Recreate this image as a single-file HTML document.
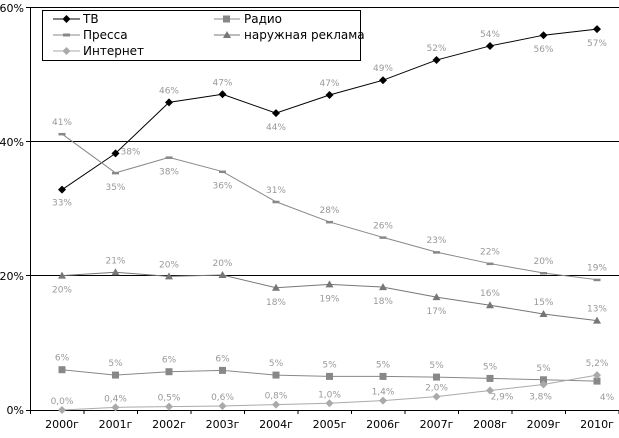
<!DOCTYPE html>
<html><head><meta charset="utf-8"><style>
body{margin:0;background:#fff}
text{font-family:"DejaVu Sans","Liberation Sans",sans-serif}
.l{font-size:9px;fill:#999;text-anchor:middle}
.a{font-size:11px;fill:#000}
</style></head><body>
<svg width="619" height="433" xmlns="http://www.w3.org/2000/svg">
<g stroke="#000" stroke-width="1">
<line x1="30.5" y1="7" x2="30.5" y2="410"/>
<line x1="30" y1="7.5" x2="619" y2="7.5"/>
<line x1="30" y1="141.5" x2="619" y2="141.5"/>
<line x1="30" y1="275.5" x2="619" y2="275.5"/>
<line x1="26" y1="410.5" x2="619" y2="410.5"/>
<line x1="26" y1="7.5" x2="30" y2="7.5"/><line x1="26" y1="141.5" x2="30" y2="141.5"/><line x1="26" y1="275.5" x2="30" y2="275.5"/>
</g>
<g stroke="#000" id="ticks"></g>
<g class="a" text-anchor="end">
<text x="24" y="12">60%</text><text x="24" y="146">40%</text><text x="24" y="280">20%</text><text x="24" y="414">0%</text>
</g>
<g id="xl" class="a" text-anchor="middle"></g>
<g id="series"></g>
<rect x="42.5" y="10.5" width="318" height="50" fill="#fff" stroke="#000"/>
<g class="a" style="font-size:12px">
<line x1="53" y1="19" x2="80" y2="19" stroke="#000"/><path d="M66.5 15l4 4-4 4-4-4z" fill="#000"/><text x="83" y="23">ТВ</text>
<line x1="53" y1="35" x2="80" y2="35" stroke="#888"/><line x1="63" y1="35" x2="70" y2="35" stroke="#888" stroke-width="3"/><text x="83" y="39">Пресса</text>
<line x1="53" y1="51" x2="80" y2="51" stroke="#aaa"/><path d="M66.5 47l4 4-4 4-4-4z" fill="#aaa"/><text x="83" y="55">Интернет</text>
<line x1="214" y1="19" x2="240" y2="19" stroke="#888"/><rect x="223" y="15.5" width="7" height="7" fill="#888"/><text x="244" y="23">Радио</text>
<line x1="214" y1="35" x2="240" y2="35" stroke="#777"/><path d="M227 31l4 7h-8z" fill="#777"/><text x="244" y="39">наружная реклама</text>
</g>
</svg>
<script>
const ns="http://www.w3.org/2000/svg";
const X=i=>62+i*53.5, Y=v=>410-v*6.717;
function el(t,a,p){const e=document.createElementNS(ns,t);for(const k in a)e.setAttribute(k,a[k]);(p||document.getElementById('series')).appendChild(e);return e}
for(let i=0;i<=11;i++)el('line',{x1:30.5+i*53.5,y1:410,x2:30.5+i*53.5,y2:414,stroke:'#000'},document.getElementById('ticks'));
const yrs=[2000,2001,2002,2003,2004,2005,2006,2007,2008,2009,2010];
yrs.forEach((y,i)=>{const t=el('text',{x:X(i),y:428},document.getElementById('xl'));t.textContent=y+'г'});
const S=[
{c:'#000',m:'d',v:[32.8,38.2,45.8,47,44.2,46.9,49.1,52.1,54.2,55.8,56.7],l:['33%','38%','46%','47%','44%','47%','49%','52%','54%','56%','57%'],o:[[0,13],[15,-2],[0,-12],[0,-12],[0,14],[0,-12],[0,-12],[0,-12],[0,-12],[0,14],[0,14]]},
{c:'#888',m:'s',v:[41.1,35.3,37.6,35.5,31,28,25.7,23.5,21.8,20.4,19.4],l:['41%','35%','38%','36%','31%','28%','26%','23%','22%','20%','19%'],o:[[0,-12],[0,14],[0,14],[0,14],[0,-12],[0,-12],[0,-12],[0,-12],[0,-12],[0,-12],[0,-12]],dash:1},
{c:'#777',m:'t',v:[20,20.5,19.9,20.1,18.2,18.7,18.3,16.8,15.6,14.3,13.3],l:['20%','21%','20%','20%','18%','19%','18%','17%','16%','15%','13%'],o:[[0,14],[0,-12],[0,-12],[0,-12],[0,14],[0,14],[0,14],[0,14],[0,-12],[0,-12],[0,-12]]},
{c:'#888',m:'q',v:[6,5.2,5.7,5.9,5.2,5,5,4.9,4.7,4.5,4.3],l:['6%','5%','6%','6%','5%','5%','5%','5%','5%','5%','4%'],o:[[0,-12],[0,-12],[0,-12],[0,-12],[0,-12],[0,-12],[0,-12],[0,-12],[0,-12],[0,-12],[10,16]]},
{c:'#aaa',m:'d',v:[0,.4,.5,.6,.8,1,1.4,2,2.9,3.8,5.2],l:['0,0%','0,4%','0,5%','0,6%','0,8%','1,0%','1,4%','2,0%','2,9%','3,8%','5,2%'],o:[[0,-9],[0,-9],[0,-9],[0,-9],[0,-9],[0,-9],[0,-9],[0,-9],[12,6],[-3,12],[0,-12]]},
];
S.forEach(s=>{
 el('polyline',{points:s.v.map((v,i)=>X(i)+','+Y(v)).join(' '),fill:'none',stroke:s.c,'stroke-width':1});
 s.v.forEach((v,i)=>{const x=X(i),y=Y(v);
  if(s.m=='d')el('path',{d:`M${x} ${y-4}l4 4-4 4-4-4z`,fill:s.c});
  if(s.m=='q')el('rect',{x:x-3.5,y:y-3.5,width:7,height:7,fill:s.c});
  if(s.m=='s')el('rect',{x:x-3.5,y:y-1,width:7,height:2.5,fill:s.c});
  if(s.m=='t')el('path',{d:`M${x} ${y-4}l4 7h-8z`,fill:s.c});
  const t=el('text',{x:x+s.o[i][0],y:y+s.o[i][1]+3,class:'l'});t.textContent=s.l[i];
 });
});
</script>
</body></html>
